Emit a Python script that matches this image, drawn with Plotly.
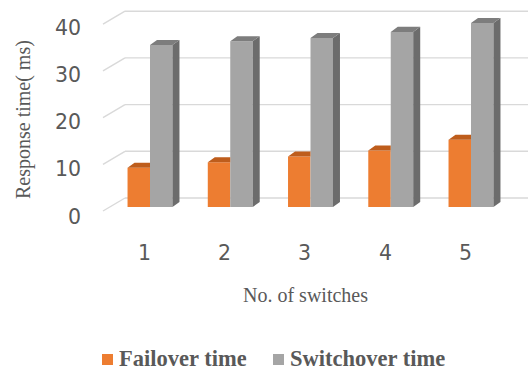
import numpy as np
import plotly.graph_objects as go

# ---- data ----
switches = [1, 2, 3, 4, 5]
failover_time = [8.4, 9.6, 10.8, 12.1, 14.4]
switchover_time = [34.7, 35.5, 36.2, 37.5, 39.4]
y_ticks = [0, 10, 20, 30, 40]
series_names = ["Failover time", "Switchover time"]

# ---- geometry (axis units) ----
W, H = 528, 370
px_x = 80.25          # pixels per category
px_y = 4.67           # pixels per ms
x0_px, y0_px = 150, 207   # pixel position of category 1 centre / value 0
x_range = [1 - x0_px / px_x, 1 + (W - x0_px) / px_x]
y_range = [-(H - y0_px) / px_y, y0_px / px_y]


def yval(py):
    """pixel row -> value on the y axis"""
    return (y0_px - py) / px_y


bar_w = 0.28
bar_dx, bar_dy = 7 / px_x, 5 / px_y          # bar depth
floor_dx, floor_dy = 22 / px_x, 13 / px_y    # wall depth
front_shift = -4 / px_y                       # front floor edge below bar base

ORANGE, ORANGE_TOP = "#ED7D31", "#BE5D1C"
GREY, GREY_SIDE, GREY_TOP = "#A5A5A5", "#6C6C6C", "#7D7D7D"
TXT = "#595959"
GRID = "#D9D9D9"

x = np.array(switches, dtype=float)
fo = np.array(failover_time)
so = np.array(switchover_time)

fig = go.Figure()

fig.add_trace(go.Bar(x=x, y=fo, offset=-bar_w, width=bar_w, name=series_names[0],
                     marker=dict(color=ORANGE, line=dict(width=0))))
fig.add_trace(go.Bar(x=x, y=so, offset=0, width=bar_w, name=series_names[1],
                     marker=dict(color=GREY, line=dict(width=0))))


def polys(pts_list):
    xs, ys = [], []
    for pts in pts_list:
        for px, py in pts:
            xs.append(px)
            ys.append(py)
        xs.append(pts[0][0]); ys.append(pts[0][1])
        xs.append(None); ys.append(None)
    return xs, ys


# orange tops (right part hidden behind the grey bar)
tops_o = []
for xi, v in zip(x, fo):
    xl, xr = xi - bar_w, xi
    tops_o.append([(xl, v), (xl + bar_dx, v + bar_dy), (xr, v + bar_dy), (xr, v)])
# grey sides and tops
sides_g, tops_g = [], []
for xi, v in zip(x, so):
    xl, xr = xi, xi + bar_w
    sides_g.append([(xr, 0), (xr + bar_dx, bar_dy), (xr + bar_dx, v + bar_dy), (xr, v)])
    tops_g.append([(xl, v), (xl + bar_dx, v + bar_dy), (xr + bar_dx, v + bar_dy), (xr, v)])

for pts, col in [(tops_o, ORANGE_TOP), (sides_g, GREY_SIDE), (tops_g, GREY_TOP)]:
    xs, ys = polys(pts)
    fig.add_trace(go.Scatter(x=xs, y=ys, mode="lines", fill="toself", fillcolor=col,
                             line=dict(width=0, color=col), showlegend=False,
                             hoverinfo="skip"))

# back-wall gridlines and floor diagonals
shapes = []
x_left_front = 1 - 47 / px_x
for t in y_ticks:
    yb = t + front_shift + floor_dy
    shapes.append(dict(type="line", xref="x", yref="y", layer="below",
                       x0=x_left_front + floor_dx, x1=x_range[1], y0=yb, y1=yb,
                       line=dict(color=GRID, width=1.4)))
    shapes.append(dict(type="line", xref="x", yref="y", layer="below",
                       x0=x_left_front, x1=x_left_front + floor_dx,
                       y0=t + front_shift, y1=yb,
                       line=dict(color=GRID, width=1.4)))

annotations = []
# value labels along the front edge of the floor
for t in y_ticks:
    annotations.append(dict(x=1 - 67 / px_x, y=yval(216.5) + t * 4.72 / px_y,
                            xref="x", yref="y",
                            text=str(t), showarrow=False, xanchor="right",
                            yanchor="middle",
                            font=dict(family="DejaVu Sans", size=20.5, color=TXT)))
# category labels
for s in switches:
    annotations.append(dict(x=s - 0.07, y=yval(252.5), xref="x", yref="y",
                            text=str(s), showarrow=False, xanchor="center",
                            yanchor="middle",
                            font=dict(family="DejaVu Sans", size=20.5, color=TXT)))

annotations.append(dict(x=305 / W, y=1 - 295 / H, xref="paper", yref="paper",
                        text="No. of switches", showarrow=False,
                        xanchor="center", yanchor="middle",
                        font=dict(family="Liberation Serif", size=20, color=TXT)))
annotations.append(dict(x=23 / W, y=1 - 120 / H, xref="paper", yref="paper",
                        text="Response time( ms)", textangle=-90, showarrow=False,
                        xanchor="center", yanchor="middle",
                        font=dict(family="Liberation Serif", size=20, color=TXT)))

# legend: swatch + label for each series
legend_items = [(102, ORANGE, series_names[0]), (273, GREY, series_names[1])]
for lx, col, name in legend_items:
    shapes.append(dict(type="rect", xref="paper", yref="paper",
                       x0=lx / W, x1=(lx + 11) / W, y0=1 - 365 / H, y1=1 - 354 / H,
                       fillcolor=col, line=dict(width=0)))
    annotations.append(dict(x=(lx + 15) / W, y=1 - 358 / H, xref="paper", yref="paper",
                            text=f"<b>{name}</b>", showarrow=False, xanchor="left",
                            yanchor="middle", height=22,
                            font=dict(family="Liberation Serif", size=22.5, color=TXT)))

fig.update_layout(
    width=W, height=H,
    margin=dict(l=0, r=0, t=0, b=0, autoexpand=False),
    paper_bgcolor="white", plot_bgcolor="white",
    xaxis=dict(range=x_range, visible=False, fixedrange=True),
    yaxis=dict(range=y_range, visible=False, fixedrange=True),
    barmode="overlay",
    showlegend=False,
    shapes=shapes,
    annotations=annotations,
)

fig.write_html("out.html")
